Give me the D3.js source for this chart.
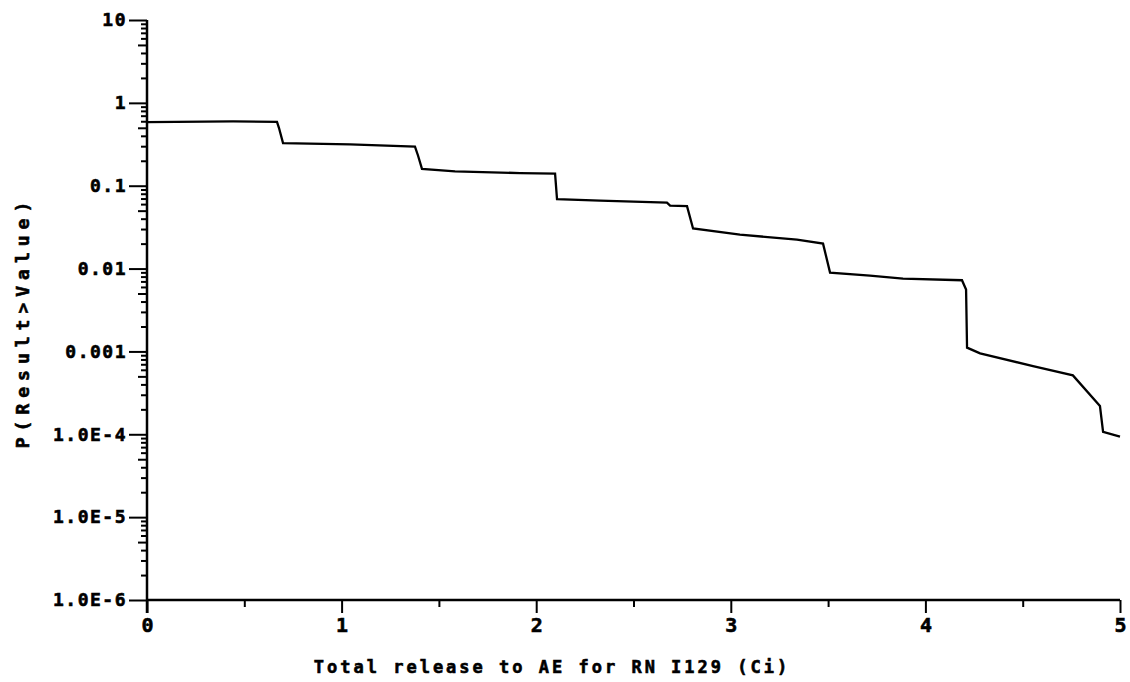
<!DOCTYPE html>
<html>
<head>
<meta charset="utf-8">
<script src="https://cdn.jsdelivr.net/npm/d3@7"></script>
<style>
    body { margin: 0; background: #fff; }
    text { font-family: "DejaVu Sans Mono", monospace; font-weight: bold; fill: #000; stroke: #000; stroke-width: 0.6px; }
</style>
</head>
<body>
<svg id="chart" width="1130" height="682"></svg>
<script>
// Complementary cumulative distribution
var releaseCi = [0, 0.442, 0.668, 0.678, 0.699, 1.043, 1.377, 1.393, 1.413, 1.583, 1.917, 2.097, 2.107,
    2.328, 2.672, 2.688, 2.775, 2.806, 3.047, 3.340, 3.474, 3.510, 3.715, 3.885, 4.188, 4.209, 4.214,
    4.281, 4.553, 4.758, 4.897, 4.913, 5.0]
var probExceed = [0.585, 0.598, 0.59, 0.50, 0.327, 0.316, 0.297, 0.23, 0.160, 0.149, 0.142, 0.140, 0.069,
    0.066, 0.0624, 0.0574, 0.0567, 0.0305, 0.0257, 0.0223, 0.0200, 0.00895, 0.00824, 0.00758, 0.00723, 0.00558, 0.00111,
    0.000946, 0.000665, 0.000514, 0.000219, 0.000107, 0.0000938]

var xTicks = [0, 1, 2, 3, 4, 5]
var xHalfTicks = [0.5, 1.5, 2.5, 3.5, 4.5]
var yTicks = [1e-6, 1e-5, 1e-4, 1e-3, 1e-2, 1e-1, 1, 10]
var yTickLabels = ["1.0E-6", "1.0E-5", "1.0E-4", "0.001", "0.01", "0.1", "1", "10"]

var svg = d3.select("#chart")

var x = d3.scaleLinear().domain([0, 5]).range([147, 1120])
var y = d3.scaleLog().domain([1e-6, 10]).range([600, 20])

// minor y ticks: 2..9 in each decade
var yMinor = []
for (var d = -6; d < 1; d++) {
    for (var m = 2; m <= 9; m++) {
        yMinor.push(m * Math.pow(10, d))
    }
}

// Y axis
var gy = svg.append("g").attr("transform", "translate(" + x(0) + ",0)")
gy.call(d3.axisLeft(y).tickValues(yMinor).tickFormat("").tickSize(6))
gy.selectAll(".tick line").filter(function(v) { return Math.round(v / Math.pow(10, Math.floor(Math.log10(v) + 1e-9))) == 5 })
    .attr("x2", -9)
gy.select(".domain").remove()
var gy2 = svg.append("g").attr("transform", "translate(" + x(0) + ",0)")
gy2.call(d3.axisLeft(y).tickValues(yTicks).tickSize(18).tickPadding(2)
    .tickFormat(function(v, i) { return yTickLabels[i] }))
gy2.select(".domain").remove()
gy2.selectAll("text").style("font-size", "18px").style("letter-spacing", "1.5px")

// X axis
var gx = svg.append("g").attr("transform", "translate(0," + y(1e-6) + ")")
gx.call(d3.axisBottom(x).tickValues(xHalfTicks).tickFormat("").tickSize(7))
gx.select(".domain").remove()
var gx2 = svg.append("g").attr("transform", "translate(0," + y(1e-6) + ")")
gx2.call(d3.axisBottom(x).tickValues(xTicks).tickSize(13).tickPadding(5).tickFormat(d3.format("d")))
gx2.select(".domain").remove()
gx2.selectAll("text").style("font-size", "20px")

svg.selectAll(".tick line").attr("stroke", "#000").attr("stroke-width", 2)

// axis lines
svg.append("line")
    .attr("x1", x(0)).attr("x2", x(0))
    .attr("y1", y(10)).attr("y2", y(1e-6) + 13)
    .attr("stroke", "#000").attr("stroke-width", 2.5)
svg.append("line")
    .attr("x1", x(0)).attr("x2", x(5))
    .attr("y1", y(1e-6)).attr("y2", y(1e-6))
    .attr("stroke", "#000").attr("stroke-width", 2.5)

// Curve
var line = d3.line()
    .x(function(d) { return x(d[0]) })
    .y(function(d) { return y(d[1]) })
svg.append("path")
    .datum(d3.zip(releaseCi, probExceed))
    .attr("d", line)
    .attr("fill", "none")
    .attr("stroke", "#000")
    .attr("stroke-width", 2.3)

// Titles
svg.append("text")
    .attr("x", 552).attr("y", 673)
    .attr("text-anchor", "middle")
    .style("font-size", "17px").style("letter-spacing", "3px")
    .text("Total release to AE for RN I129 (Ci)")

svg.append("text")
    .attr("transform", "translate(29,322) rotate(-90)")
    .attr("text-anchor", "middle")
    .style("font-size", "18px").style("letter-spacing", "6px")
    .text("P(Result>Value)")
</script>
</body>
</html>
